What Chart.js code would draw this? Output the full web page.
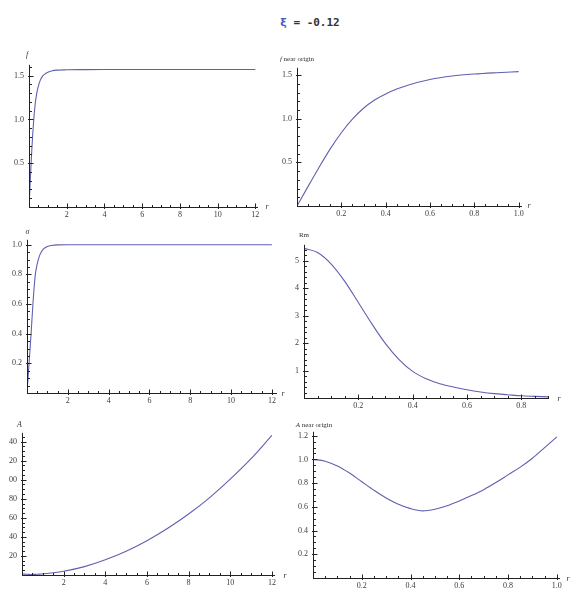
<!DOCTYPE html>
<html>
<head>
<meta charset="utf-8">
<script src="https://cdn.jsdelivr.net/npm/chart.js@4.4.1/dist/chart.umd.min.js"></script>
<style>
  body { margin: 0; background: #fff; }
  #page { position: relative; width: 584px; height: 604px; overflow: hidden; background: #fff; }
  .box { position: absolute; overflow: hidden; }
  .box canvas { position: absolute; top: 0; }
  .lbl { position: absolute; transform: translate(-50%, -50%); font-family: "Liberation Serif", serif; font-size: 8px; color: #333; white-space: nowrap; }
  .small { font-size: 7px; }
  #title { position: absolute; left: 310px; top: 22px; transform: translate(-50%, -50%); font-family: "DejaVu Sans Mono", monospace; font-weight: bold; font-size: 11px; color: #333; white-space: nowrap; }
  #title .xi { color: #4a5cc8; font-family: "DejaVu Sans", sans-serif; }
</style>
</head>
<body>
<div id="page">
  <div id="title"><span class="xi">ξ</span> = -0.12</div>
</div>
<script>
// values
const rF = [0, 0.05, 0.1, 0.15, 0.2, 0.25, 0.3, 0.35, 0.4, 0.45, 0.5, 0.6, 0.7, 0.8, 0.9, 1.0, 1.2, 1.5, 2, 3, 4, 5, 6, 7, 8, 9, 10, 11, 12];
const fVals = [0, 0.225, 0.445, 0.655, 0.84, 0.995, 1.12, 1.215, 1.285, 1.34, 1.385, 1.45, 1.49, 1.513, 1.528, 1.54, 1.555, 1.564, 1.568, 1.570, 1.5708, 1.5708, 1.5708, 1.5708, 1.5708, 1.5708, 1.5708, 1.5708, 1.5708];

const rS = [0, 0.1, 0.2, 0.3, 0.4, 0.5, 0.6, 0.7, 0.8, 1.0, 1.2, 1.5, 2, 3, 4, 5, 6, 7, 8, 9, 10, 11, 12];
const sigmaVals = [0, 0.2, 0.4, 0.62, 0.79, 0.87, 0.92, 0.95, 0.97, 0.988, 0.995, 0.999, 1, 1, 1, 1, 1, 1, 1, 1, 1, 1, 1];

const rR = [0, 0.05, 0.1, 0.15, 0.2, 0.25, 0.3, 0.35, 0.4, 0.45, 0.5, 0.55, 0.6, 0.65, 0.7, 0.75, 0.8, 0.85, 0.9];
const rmVals = [5.45, 5.3, 4.88, 4.25, 3.48, 2.7, 1.98, 1.4, 0.97, 0.7, 0.52, 0.4, 0.3, 0.22, 0.16, 0.12, 0.08, 0.06, 0.04];

const rA = [0, 0.05, 0.1, 0.15, 0.2, 0.25, 0.3, 0.35, 0.4, 0.45, 0.5, 0.55, 0.6, 0.65, 0.7, 0.75, 0.8, 0.85, 0.9, 0.95, 1.0, 1.5, 2, 3, 4, 5, 6, 7, 8, 9, 10, 11, 12];
const aVals = [1.0, 0.985, 0.945, 0.885, 0.812, 0.74, 0.675, 0.622, 0.585, 0.566, 0.58, 0.61, 0.65, 0.695, 0.745, 0.805, 0.87, 0.935, 1.01, 1.1, 1.19, 2.3, 3.9, 8.8, 16, 25, 36, 49, 64, 81, 100.5, 122, 146.5];

const curveColor = 'rgb(96, 96, 176)';
const tickFont = { family: 'Liberation Serif', size: 8 };
const tickColor = '#3a3a3a';

// one entry per panel: where the axes sit on the page and the axis ranges
const panels = [
  { r: rF, v: fVals, ox: 29, oy: 207, xEnd: 258, yTop: 63, xMax: 12.14, yMax: 1.625,
    xMajor: 2, xMinor: 0.5, xDec: 0, yMajor: 0.5, yMinor: 0.1, yDec: 1,
    labels: [['<i>f</i>', 27, 54, ''], ['<i>r</i>', 267, 206, '']] },
  { r: rF, v: fVals, rLim: 1.0, ox: 297, oy: 206, xEnd: 522, yTop: 66, xMax: 1.015, yMax: 1.584,
    xMajor: 0.2, xMinor: 0.05, xDec: 1, yMajor: 0.5, yMinor: 0.1, yDec: 1,
    labels: [['<i>f</i> near origin', 297, 59, 'small'], ['<i>r</i>', 529, 205, '']] },
  { r: rS, v: sigmaVals, ox: 27, oy: 393, xEnd: 277, yTop: 238, xMax: 12.25, yMax: 1.033,
    xMajor: 2, xMinor: 0.5, xDec: 0, yMajor: 0.2, yMinor: 0.05, yDec: 1,
    labels: [['<i>σ</i>', 27.5, 231, ''], ['<i>r</i>', 283, 393, '']] },
  { r: rR, v: rmVals, ox: 304, oy: 398, xEnd: 549, yTop: 243, xMax: 0.902, yMax: 5.58,
    xMajor: 0.2, xMinor: 0.05, xDec: 1, yMajor: 1, yMinor: 0.2, yDec: 0,
    labels: [['Rm', 304, 235, 'small'], ['<i>r</i>', 559, 398, '']] },
  { r: rA, v: aVals, ox: 22, oy: 575, xEnd: 275, yTop: 431, xMax: 12.15, yMax: 149.2, clipLeft: 9,
    xMajor: 2, xMinor: 0.5, xDec: 0, yMajor: 20, yMinor: 5, yDec: 0,
    labels: [['<i>A</i>', 19.5, 424, ''], ['<i>r</i>', 285, 575, '']] },
  { r: rA, v: aVals, rLim: 1.0, ox: 313, oy: 578, xEnd: 560, yTop: 430, xMax: 1.013, yMax: 1.233,
    xMajor: 0.2, xMinor: 0.05, xDec: 1, yMajor: 0.2, yMinor: 0.05, yDec: 1,
    labels: [['<i>A</i> near origin', 314, 425, 'small'], ['<i>r</i>', 568, 578, '']] }
];

const LEFT = 30, RIGHT = 10, TOP = 8, BOTTOM = 16;

function makeTicks(max, step) {
  const out = [];
  const n = Math.floor(max / step + 1e-9);
  for (let k = 0; k <= n; k++) out.push({ value: Math.round(k * step * 1e6) / 1e6 });
  return out;
}
function isMajor(v, major) {
  const q = v / major;
  return Math.abs(q - Math.round(q)) < 1e-6;
}

// Mathematica-style axes: lines through the origin, major ticks crossing, minor ticks inside
const axesPlugin = {
  id: 'mmaAxes',
  afterDraw(chart) {
    const p = chart.options.plugins.mmaAxes;
    const ctx = chart.ctx;
    const a = chart.chartArea;
    const xs = chart.scales.x, ys = chart.scales.y;
    const bx = Math.round(a.bottom) + 0.5, lx = Math.round(a.left) + 0.5;
    ctx.save();
    ctx.strokeStyle = '#222';
    ctx.lineWidth = 1;
    ctx.beginPath();
    ctx.moveTo(a.left, bx); ctx.lineTo(a.right, bx);
    ctx.moveTo(lx, a.bottom); ctx.lineTo(lx, a.top);
    ctx.stroke();
    ctx.beginPath();
    xs.ticks.forEach(t => {
      if (t.value === 0) return;
      const px = Math.round(xs.getPixelForValue(t.value)) + 0.5;
      if (isMajor(t.value, p.xMajor)) { ctx.moveTo(px, bx + 1.5); ctx.lineTo(px, bx - 4); }
      else { ctx.moveTo(px, bx); ctx.lineTo(px, bx - 2.5); }
    });
    ys.ticks.forEach(t => {
      if (t.value === 0) return;
      const py = Math.round(ys.getPixelForValue(t.value)) + 0.5;
      if (isMajor(t.value, p.yMajor)) { ctx.moveTo(lx - 1.5, py); ctx.lineTo(lx + 4, py); }
      else { ctx.moveTo(lx, py); ctx.lineTo(lx + 2.5, py); }
    });
    ctx.stroke();
    ctx.restore();
  }
};

const page = document.getElementById('page');

panels.forEach(p => {
  const w = p.xEnd - p.ox + LEFT + RIGHT;
  const h = p.oy - p.yTop + TOP + BOTTOM;
  const left = p.ox - LEFT, top = p.yTop - TOP;
  const boxLeft = p.clipLeft !== undefined ? p.clipLeft : left;

  const box = document.createElement('div');
  box.className = 'box';
  box.style.left = boxLeft + 'px';
  box.style.top = top + 'px';
  box.style.width = (w - (boxLeft - left)) + 'px';
  box.style.height = h + 'px';
  const cv = document.createElement('canvas');
  cv.width = w; cv.height = h;
  cv.style.width = w + 'px'; cv.style.height = h + 'px';
  cv.style.left = (left - boxLeft) + 'px';
  box.appendChild(cv);
  page.appendChild(box);

  const pts = [];
  p.r.forEach((r, i) => {
    if (p.rLim === undefined || r <= p.rLim + 1e-9) pts.push({ x: r, y: p.v[i] });
  });

  new Chart(cv, {
    type: 'line',
    data: {
      datasets: [{
        data: pts,
        borderColor: curveColor,
        borderWidth: 1.1,
        pointRadius: 0,
        fill: false,
        cubicInterpolationMode: 'monotone'
      }]
    },
    options: {
      responsive: false,
      animation: false,
      layout: { padding: { top: TOP, right: RIGHT, left: 0, bottom: 0 } },
      plugins: {
        legend: { display: false },
        tooltip: { enabled: false },
        mmaAxes: { xMajor: p.xMajor, yMajor: p.yMajor }
      },
      scales: {
        x: {
          type: 'linear', min: 0, max: p.xMax,
          grid: { display: false, drawTicks: false },
          border: { display: false },
          afterBuildTicks: s => { s.ticks = makeTicks(p.xMax, p.xMinor); },
          afterFit: s => { s.height = BOTTOM; },
          ticks: {
            autoSkip: false, maxRotation: 0, padding: 3, font: tickFont, color: tickColor,
            callback: v => (v !== 0 && isMajor(v, p.xMajor)) ? v.toFixed(p.xDec) : ''
          }
        },
        y: {
          type: 'linear', min: 0, max: p.yMax,
          grid: { display: false, drawTicks: false },
          border: { display: false },
          afterBuildTicks: s => { s.ticks = makeTicks(p.yMax, p.yMinor); },
          afterFit: s => { s.width = LEFT; },
          ticks: {
            autoSkip: false, padding: 5, font: tickFont, color: tickColor,
            callback: v => (v !== 0 && isMajor(v, p.yMajor)) ? v.toFixed(p.yDec) : ''
          }
        }
      }
    },
    plugins: [axesPlugin]
  });

  p.labels.forEach(([txt, x, y, cls]) => {
    const s = document.createElement('div');
    s.className = 'lbl ' + cls;
    s.innerHTML = txt;
    s.style.left = x + 'px';
    s.style.top = y + 'px';
    page.appendChild(s);
  });
});
</script>
</body>
</html>
